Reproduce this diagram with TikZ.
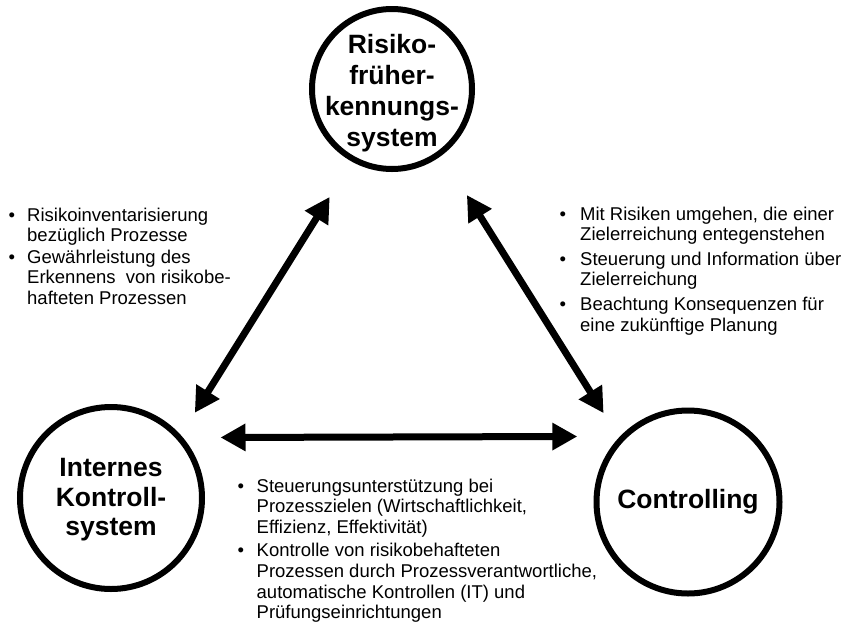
\documentclass[tikz,border=0pt]{standalone}
\usepackage{fontspec}
\setmainfont{Liberation Sans}
\usetikzlibrary{arrows.meta}
\newcommand{\bul}[1]{\makebox[#1][l]{\textbullet}}

\begin{document}
\begin{tikzpicture}[x=1pt,y=-1pt,
    hub/.style={circle,draw,line width=6pt,minimum size=#1,inner sep=0pt},
    hubtext/.style={font=\fontsize{26.5}{31}\selectfont\bfseries,align=center},
    link/.style={line width=7pt,arrows={Triangle[length=25pt,width=26pt]-Triangle[length=25pt,width=26pt]}},
    notes/.style={anchor=base west,inner sep=0pt,font=\fontsize{18.5}{20.6}\selectfont}]
  \useasboundingbox (0,0) rectangle (846,630);

  \node[hub=160pt,label={[hubtext,yshift=-4pt]center:Risiko-\\früher-\\kennungs-\\system}] (rfs) at (392,89) {};
  \node[hub=182pt,label={[hubtext,yshift=-2pt,font=\fontsize{26.5}{29.5}\selectfont\bfseries]center:Internes\\Kontroll-\\system}] (iks) at (111,498) {};
  \node[hub=183pt,label={[hubtext]center:Controlling}] (ctrl) at (688,502) {};

  \draw[link,shorten <=41.6pt,shorten >=26.3pt] (rfs.241) -- (iks.42);
  \draw[link,shorten <=46.9pt,shorten >=28.8pt] (rfs.307) -- (ctrl.137);
  \draw[link,shorten <=37.5pt,shorten >=42.7pt] (iks.40.5) -- (ctrl.136.8);

  \node[notes] (left) at (8.5,221) {\begin{tabular}[t]{@{}l@{}l@{}}
    \bul{18.5pt}&Risikoinventarisierung\\
    &bezüglich Prozesse\\[1pt]
    \bul{18.5pt}&Gewährleistung des\\
    &Erkennens\ \ von risikobe-\\
    &hafteten Prozessen
  \end{tabular}};
  \node[notes] (right) at (559.5,220) {\begin{tabular}[t]{@{}l@{}l@{}}
    \bul{20.5pt}&Mit Risiken umgehen, die einer\\
    &Zielerreichung entegenstehen\\[4pt]
    \bul{20.5pt}&Steuerung und Information über\\
    &Zielerreichung\\[4pt]
    \bul{20.5pt}&Beachtung Konsequenzen für\\
    &eine zukünftige Planung
  \end{tabular}};
  \node[notes] (bottom) at (237.5,492) {\begin{tabular}[t]{@{}l@{}l@{}}
    \bul{19pt}&Steuerungsunterstützung bei\\
    &Prozesszielen (Wirtschaftlichkeit,\\
    &Effizienz, Effektivität)\\[3pt]
    \bul{19pt}&Kontrolle von risikobehafteten\\
    &Prozessen durch Prozessverantwortliche,\\
    &automatische Kontrollen (IT) und\\
    &Prüfungseinrichtungen
  \end{tabular}};
\end{tikzpicture}
\end{document}
